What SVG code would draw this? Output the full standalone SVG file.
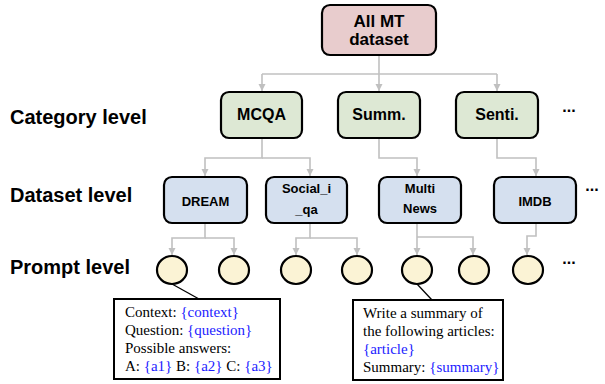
<svg xmlns="http://www.w3.org/2000/svg" width="605" height="384" viewBox="0 0 605 384">
<defs>
<marker id="arr" markerUnits="userSpaceOnUse" markerWidth="8" markerHeight="8" refX="7" refY="3.5" orient="auto">
<path d="M0,0 L7,3.5 L0,7 z" fill="#c0c0c0"/>
</marker>
</defs>
<style>
.box{stroke:#000;stroke-width:2.2}
.root{fill:#e8cccd}
.cat{fill:#dde8d4}
.ds{fill:#d5e0ef}
.pr{fill:#fbf3d5;stroke:#000;stroke-width:2.2}
.conn{fill:none;stroke:#c0c0c0;stroke-width:1.6}
.lbl{font-family:"Liberation Sans",Arial,sans-serif;font-weight:bold;fill:#000}
.tpl{font-family:"Liberation Serif","Times New Roman",serif;font-size:15px;fill:#000}
.var{fill:#1c1cff}
.tbox{fill:#fff;stroke:#000;stroke-width:2}
</style>
<rect width="605" height="384" fill="#fff"/>

<g id="connectors">
<path class="conn" d="M379 55 V74"/>
<path class="conn" d="M262 74 H497"/>
<path class="conn" d="M262 74 V91" marker-end="url(#arr)"/>
<path class="conn" d="M379 74 V91" marker-end="url(#arr)"/>
<path class="conn" d="M497 74 V91" marker-end="url(#arr)"/>
<path class="conn" d="M262 138 V158 H205 V176" marker-end="url(#arr)"/>
<path class="conn" d="M262 158 H310 V176" marker-end="url(#arr)"/>
<path class="conn" d="M379 138 V158 H417 V176" marker-end="url(#arr)"/>
<path class="conn" d="M497 138 V158 H536 V176" marker-end="url(#arr)"/>
<path class="conn" d="M205 223 V238 H172 V255" marker-end="url(#arr)"/>
<path class="conn" d="M205 238 H234 V255" marker-end="url(#arr)"/>
<path class="conn" d="M310 223 V238 H296 V255" marker-end="url(#arr)"/>
<path class="conn" d="M310 238 H357 V255" marker-end="url(#arr)"/>
<path class="conn" d="M417 223 V255" marker-end="url(#arr)"/>
<path class="conn" d="M417 237 H473 V255" marker-end="url(#arr)"/>
<path class="conn" d="M536 223 V236 H527 V255" marker-end="url(#arr)"/>
<path d="M172 284 L199 299" stroke="#000" stroke-width="1.3" fill="none"/>
<path d="M417 284 L432 300" stroke="#000" stroke-width="1.3" fill="none"/>
</g>

<g id="labels">
<text class="lbl" x="10" y="124" font-size="20">Category level</text>
<text class="lbl" x="10" y="202" font-size="20">Dataset level</text>
<text class="lbl" x="10" y="274" font-size="20">Prompt level</text>
</g>

<g id="root">
<rect class="box root" x="322" y="5" width="114" height="50" rx="8"/>
<text class="lbl" x="379" y="27" font-size="17" text-anchor="middle">All MT</text>
<text class="lbl" x="379" y="45" font-size="17" text-anchor="middle">dataset</text>
</g>

<g id="cat-mcqa">
<rect class="box cat" x="221" y="92" width="81" height="46" rx="8"/>
<text class="lbl" x="261.5" y="120" font-size="16" text-anchor="middle">MCQA</text>
</g>
<g id="cat-summ">
<rect class="box cat" x="338" y="92" width="82" height="46" rx="8"/>
<text class="lbl" x="379" y="120" font-size="16" text-anchor="middle">Summ.</text>
</g>
<g id="cat-senti">
<rect class="box cat" x="456" y="92" width="82" height="46" rx="8"/>
<text class="lbl" x="497" y="120" font-size="16" text-anchor="middle">Senti.</text>
</g>
<g id="cat-more"><text class="lbl" x="569" y="112" font-size="16" text-anchor="middle">...</text></g>

<g id="ds-dream">
<rect class="box ds" x="164" y="177" width="83" height="46" rx="8"/>
<text class="lbl" x="205.5" y="206" font-size="13" text-anchor="middle">DREAM</text>
</g>
<g id="ds-social">
<rect class="box ds" x="266" y="177" width="81" height="46" rx="8"/>
<text class="lbl" x="306.5" y="193" font-size="13" text-anchor="middle">Social_i</text>
<text class="lbl" x="306.5" y="214" font-size="13" text-anchor="middle">_qa</text>
</g>
<g id="ds-multinews">
<rect class="box ds" x="379" y="177" width="82" height="46" rx="8"/>
<text class="lbl" x="420" y="193" font-size="13" text-anchor="middle">Multi</text>
<text class="lbl" x="420" y="213" font-size="13" text-anchor="middle">News</text>
</g>
<g id="ds-imdb">
<rect class="box ds" x="494" y="177" width="82" height="46" rx="8"/>
<text class="lbl" x="535" y="206" font-size="13" text-anchor="middle">IMDB</text>
</g>
<g id="ds-more"><text class="lbl" x="592" y="191" font-size="16" text-anchor="middle">...</text></g>

<g id="p1"><ellipse class="pr" cx="172" cy="270" rx="15" ry="14"/></g>
<g id="p2"><ellipse class="pr" cx="234" cy="270" rx="15" ry="14"/></g>
<g id="p3"><ellipse class="pr" cx="296" cy="270" rx="15" ry="14"/></g>
<g id="p4"><ellipse class="pr" cx="357" cy="270" rx="15" ry="14"/></g>
<g id="p5"><ellipse class="pr" cx="417" cy="270" rx="15" ry="14"/></g>
<g id="p6"><ellipse class="pr" cx="474" cy="270" rx="15" ry="14"/></g>
<g id="p7"><ellipse class="pr" cx="528" cy="270" rx="15" ry="14"/></g>
<g id="p-more"><text class="lbl" x="569" y="264" font-size="16" text-anchor="middle">...</text></g>

<g id="tpl-mcqa">
<rect class="tbox" x="114" y="299" width="166" height="80"/>
<text class="tpl" x="125" y="317">Context: <tspan class="var">{context}</tspan></text>
<text class="tpl" x="125" y="335">Question: <tspan class="var">{question}</tspan></text>
<text class="tpl" x="125" y="353">Possible answers:</text>
<text class="tpl" x="125" y="371">A: <tspan class="var">{a1}</tspan> B: <tspan class="var">{a2}</tspan> C: <tspan class="var">{a3}</tspan></text>
</g>

<g id="tpl-summ">
<rect class="tbox" x="353" y="300" width="150" height="80"/>
<text class="tpl" x="363" y="318">Write a summary of</text>
<text class="tpl" x="363" y="336">the following articles:</text>
<text class="tpl" x="363" y="354"><tspan class="var">{article}</tspan></text>
<text class="tpl" x="363" y="372">Summary: <tspan class="var">{summary}</tspan></text>
</g>
</svg>
